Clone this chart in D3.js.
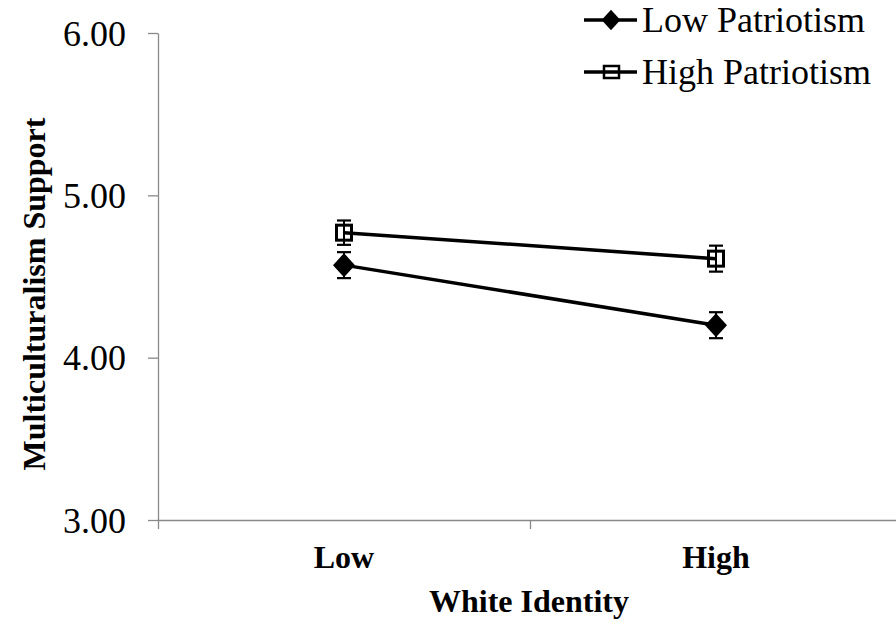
<!DOCTYPE html>
<html>
<head>
<meta charset="utf-8">
<script src="https://cdn.jsdelivr.net/npm/d3@7"></script>
<style>
  html, body { margin: 0; padding: 0; background: #fff; }
  svg { display: block; }
</style>
</head>
<body>
<svg id="chart" width="896" height="622"></svg>
<script>
// ---- data ----
const categories = ["Low", "High"];
const seriesNames = ["Low Patriotism", "High Patriotism"];
const lowPatriotism = [4.57, 4.20];
const highPatriotism = [4.77, 4.61];
const lowPatriotismErr = [0.08, 0.08];
const highPatriotismErr = [0.075, 0.08];
const yTicks = [3, 4, 5, 6];
const xTitle = "White Identity";
const yTitle = "Multiculturalism Support";

(function () {
const svg = d3.select("#chart");
const FONT = "'Liberation Serif', 'Times New Roman', serif";
const AXIS = "#898989";

const mLeft = 158, mRight = 902, mTop = 33, mBottom = 520;

const x = d3.scaleBand().domain(categories).range([mLeft, mRight]).paddingInner(0).paddingOuter(0);
const xb = d3.scaleLinear().domain([0, categories.length]).range([mLeft, mRight]);
const y = d3.scaleLinear().domain([3, 6]).range([mBottom, mTop]);
const cx = c => x(c) + x.bandwidth() / 2;

// y axis
const yAxis = svg.append("g").attr("transform", `translate(${mLeft},0)`)
  .call(d3.axisLeft(y).tickValues(yTicks).tickFormat(d3.format(".2f")).tickSize(10).tickSizeOuter(0).tickPadding(22));
yAxis.select(".domain").attr("stroke", AXIS).attr("stroke-width", 1.3);
yAxis.selectAll(".tick line").attr("stroke", AXIS).attr("stroke-width", 1.3);
yAxis.selectAll(".tick text").attr("font-family", FONT).attr("font-size", 36).attr("fill", "#000").attr("dy", "0.34em");

// x axis (ticks at category boundaries)
const xAxis = svg.append("g").attr("transform", `translate(0,${mBottom})`)
  .call(d3.axisBottom(xb).tickValues(d3.range(categories.length + 1)).tickFormat("").tickSize(9).tickSizeOuter(0));
xAxis.select(".domain").attr("stroke", AXIS).attr("stroke-width", 1.3);
xAxis.selectAll(".tick line").attr("stroke", AXIS).attr("stroke-width", 1.3);

// category labels
svg.append("g").selectAll("text").data(categories).join("text")
  .attr("x", d => cx(d)).attr("y", 568)
  .attr("text-anchor", "middle")
  .attr("font-family", FONT).attr("font-weight", "bold").attr("font-size", 32)
  .text(d => d);

// axis titles
svg.append("text").attr("x", (mLeft + mRight) / 2 - 1).attr("y", 612).attr("text-anchor", "middle")
  .attr("font-family", FONT).attr("font-weight", "bold").attr("font-size", 32).text(xTitle);
svg.append("text").attr("transform", "translate(45,294) rotate(-90)").attr("text-anchor", "middle")
  .attr("font-family", FONT).attr("font-weight", "bold").attr("font-size", 32).text(yTitle);

// series
const series = [
  { name: seriesNames[0], values: lowPatriotism, err: lowPatriotismErr, marker: "diamond" },
  { name: seriesNames[1], values: highPatriotism, err: highPatriotismErr, marker: "square" }
];

const line = d3.line().x((d, i) => cx(categories[i])).y(d => y(d));

function drawMarker(g, type, px, py, scale) {
  if (type === "diamond") {
    const w = 11 * scale, h = 12 * scale;
    g.append("path")
      .attr("d", `M${px},${py - h}L${px + w},${py}L${px},${py + h}L${px - w},${py}Z`)
      .attr("fill", "#000");
  } else {
    const s = 7.5 * scale;
    g.append("rect").attr("x", px - s).attr("y", py - s).attr("width", 2 * s).attr("height", 2 * s)
      .attr("fill", "none").attr("stroke", "#000").attr("stroke-width", 3);
  }
}

series.forEach(s => {
  const g = svg.append("g");
  g.append("path").datum(s.values).attr("d", line)
    .attr("fill", "none").attr("stroke", "#000").attr("stroke-width", 3.5);
  s.values.forEach((v, i) => {
    const px = cx(categories[i]);
    const y1 = y(v + s.err[i]), y0 = y(v - s.err[i]);
    g.append("line").attr("x1", px).attr("x2", px).attr("y1", y1).attr("y2", y0)
      .attr("stroke", "#000").attr("stroke-width", 2);
    [y1, y0].forEach(yy => g.append("line").attr("x1", px - 7).attr("x2", px + 7).attr("y1", yy).attr("y2", yy)
      .attr("stroke", "#000").attr("stroke-width", 2.2));
    drawMarker(g, s.marker, px, y(v), 1);
  });
});

// legend
const legendRows = [20, 72];
series.forEach((s, i) => {
  const g = svg.append("g");
  const ly = legendRows[i];
  g.append("line").attr("x1", 584).attr("x2", 637).attr("y1", ly).attr("y2", ly)
    .attr("stroke", "#000").attr("stroke-width", 3.5);
  if (s.marker === "diamond") drawMarker(g, "diamond", 611, ly, 0.85);
  else {
    g.append("rect").attr("x", 604).attr("y", ly - 6).attr("width", 15).attr("height", 12)
      .attr("fill", "none").attr("stroke", "#000").attr("stroke-width", 2.5);
  }
  g.append("text").attr("x", 642).attr("y", ly + 12)
    .attr("font-family", FONT).attr("font-size", 36).text(s.name);
});
})();
</script>
</body>
</html>
